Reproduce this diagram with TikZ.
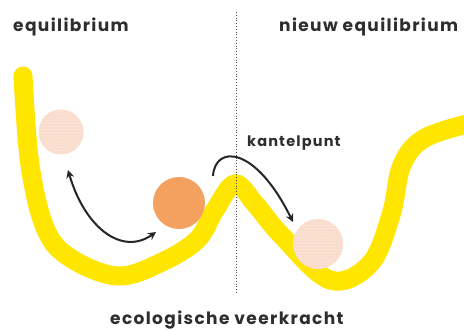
\documentclass[tikz,border=0pt]{standalone}
\usepackage{fontspec}
\setmainfont{Poppins}
\newfontfamily\labelfont[LetterSpace=8]{Poppins}
\usetikzlibrary{arrows.meta,patterns}
\definecolor{curveyellow}{HTML}{FFE600}
\definecolor{ballorange}{HTML}{F4A05E}
\definecolor{ballpeach}{HTML}{F9DCCB}
\definecolor{txtgrey}{HTML}{2E2E2E}
\tikzset{
  label text/.style={font=\labelfont\bfseries\fontsize{17}{19}\selectfont, text=txtgrey, inner sep=0pt, anchor=base west},
  small text/.style={font=\labelfont\bfseries\fontsize{14.5}{16}\selectfont, text=txtgrey, inner sep=0pt, anchor=base west},
  landscape/.style={curveyellow, line width=19pt, line cap=round},
  faded ball/.style={circle, fill=ballpeach, inner sep=0pt},
  solid ball/.style={circle, fill=ballorange, inner sep=0pt},
  move arrow/.style={line width=2pt, black!85, -{Stealth[length=8pt,width=8pt]}},
  divider/.style={dotted, line width=0.8pt, black!70}
}
\begin{document}
\begin{tikzpicture}[x=1pt,y=-1pt]
\useasboundingbox (0,0) rectangle (464,331);
% landscape curve
\draw[landscape] plot[smooth, tension=0.6] coordinates {
 (23,76) (30,165) (46,230) (72,259) (118,276) (160,263) (197,240) (215,210) (235,184)
 (256,205) (282,236) (330,280) (370,264) (391,215) (402,165) (425,138) (475,122)};
% divider
\coordinate (dtop) at (236,12);
\coordinate (dbot) at (236,293);
\draw[divider] (dtop) -- (dbot);
% balls
\node[faded ball, minimum size=45pt] (oldball) at (61,132) {};
\fill[pattern=dots, pattern color=white] (oldball.center) circle (22.5pt);
\node[faded ball, minimum size=50pt] (newball) at (318,244) {};
\fill[pattern=dots, pattern color=white] (newball.center) circle (25pt);
\node[solid ball, minimum size=52pt] (ball) at (179,203) {};
% arrows
\coordinate (la) at (68,170);
\coordinate (lb) at (156,232);
\draw[move arrow, {Stealth[length=8pt,width=8pt]}-{Stealth[length=8pt,width=8pt]}] (la) .. controls (85,228) and (122,256) .. (lb);
\coordinate (ka) at (213,176);
\coordinate (kb) at (293,222);
\draw[move arrow] (ka) .. controls (215,145) and (255,145) .. (kb);
% texts
\node[label text] (eq) at (13,32) {equilibrium};
\node[label text] (neq) at (279,32) {nieuw equilibrium};
\node[small text] (kp) at (247,147) {kantelpunt};
\node[label text] (ev) at (110,325) {ecologische veerkracht};
\end{tikzpicture}
\end{document}
